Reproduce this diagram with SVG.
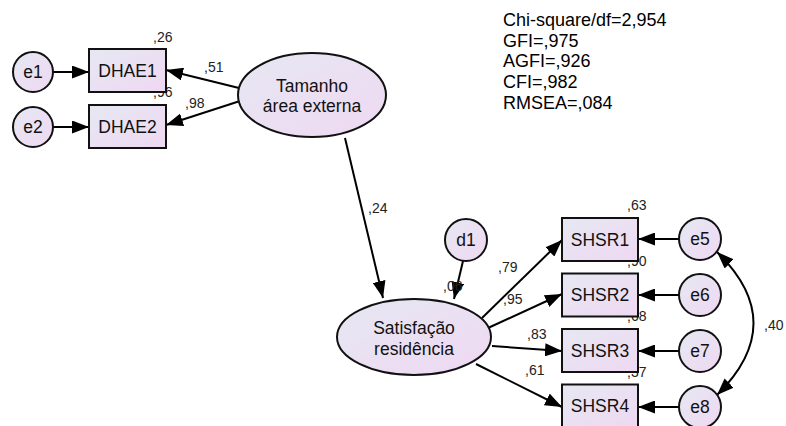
<svg xmlns="http://www.w3.org/2000/svg" width="786" height="426" viewBox="0 0 786 426">
<defs>
<linearGradient id="g" x1="0" y1="0" x2="1" y2="1">
<stop offset="0" stop-color="#e6e8f2"/>
<stop offset="1" stop-color="#efd8f2"/>
</linearGradient>
<marker id="ah" markerUnits="userSpaceOnUse" markerWidth="17" markerHeight="13" viewBox="0 0 17 13" refX="17" refY="6.5" orient="auto">
<path d="M0,0 L17,6.5 L0,13 Z" fill="#000"/>
</marker>
<marker id="ahs" markerUnits="userSpaceOnUse" markerWidth="17" markerHeight="13" viewBox="0 0 17 13" refX="0" refY="6.5" orient="auto">
<path d="M17,0 L0,6.5 L17,13 Z" fill="#000"/>
</marker>
</defs>
<style>
.n{fill:url(#g);stroke:#111;stroke-width:2}
.t{font-family:"Liberation Sans",Arial,sans-serif;font-size:17.5px;fill:#111;text-anchor:middle;dominant-baseline:central}
.l{font-family:"Liberation Sans",Arial,sans-serif;font-size:14px;fill:#222}
.f{font-family:"Liberation Sans",Arial,sans-serif;font-size:18px;fill:#000}
.c{stroke:#000;stroke-width:2;fill:none;marker-end:url(#ah)}
</style>
<g id="connectors">
<line class="c" x1="53" y1="72" x2="89" y2="72"/>
<line class="c" x1="53" y1="127" x2="89" y2="127"/>
<line class="c" x1="239" y1="88" x2="166" y2="70"/>
<line class="c" x1="240" y1="101" x2="166" y2="125"/>
<line class="c" x1="345" y1="138" x2="383" y2="298"/>
<line class="c" x1="463" y1="261" x2="454" y2="299"/>
<line class="c" x1="482" y1="318" x2="562" y2="240"/>
<line class="c" x1="488" y1="328" x2="562" y2="294"/>
<line class="c" x1="492" y1="346" x2="562" y2="351"/>
<line class="c" x1="476" y1="364" x2="562" y2="407"/>
<line class="c" x1="679" y1="239" x2="638" y2="239"/>
<line class="c" x1="679" y1="295" x2="638" y2="295"/>
<line class="c" x1="679" y1="351" x2="638" y2="351"/>
<line class="c" x1="679" y1="407" x2="638" y2="407"/>
<path class="c" style="marker-start:url(#ahs)" d="M717,252 Q790,323 717,395"/>
</g>
<g id="labels">
<text class="l" x="153" y="42">,26</text>
<text class="l" x="153" y="97">,96</text>
<text class="l" x="204" y="72">,51</text>
<text class="l" x="185" y="108">,98</text>
<text class="l" x="368" y="213">,24</text>
<text class="l" x="443" y="291">,06</text>
<text class="l" x="498" y="272">,79</text>
<text class="l" x="503" y="304">,95</text>
<text class="l" x="527" y="339">,83</text>
<text class="l" x="525" y="375">,61</text>
<text class="l" x="627" y="210">,63</text>
<text class="l" x="627" y="266">,90</text>
<text class="l" x="627" y="321">,68</text>
<text class="l" x="627" y="377">,37</text>
<text class="l" x="764" y="330">,40</text>
</g>
<g id="fit">
<text class="f" x="503" y="26">Chi-square/df=2,954</text>
<text class="f" x="503" y="47">GFI=,975</text>
<text class="f" x="503" y="67">AGFI=,926</text>
<text class="f" x="503" y="88">CFI=,982</text>
<text class="f" x="503" y="109">RMSEA=,084</text>
</g>
<g id="e1"><circle class="n" cx="33" cy="72" r="20"/><text class="t" x="33" y="72">e1</text></g>
<g id="e2"><circle class="n" cx="33" cy="127" r="20"/><text class="t" x="33" y="127">e2</text></g>
<g id="DHAE1"><rect class="n" x="89" y="49" width="77" height="43"/><text class="t" x="127.5" y="71">DHAE1</text></g>
<g id="DHAE2"><rect class="n" x="89" y="105" width="77" height="43"/><text class="t" x="127.5" y="127">DHAE2</text></g>
<g id="tamanho"><ellipse class="n" cx="312" cy="95" rx="74" ry="42"/><text class="t" x="312" y="86">Tamanho</text><text class="t" x="312" y="106">área externa</text></g>
<g id="satisfacao"><ellipse class="n" cx="414" cy="337" rx="77" ry="38"/><text class="t" x="414" y="328">Satisfação</text><text class="t" x="414" y="349">residência</text></g>
<g id="d1"><circle class="n" cx="466" cy="240" r="21"/><text class="t" x="466" y="240">d1</text></g>
<g id="SHSR1"><rect class="n" x="562" y="218" width="76" height="43"/><text class="t" x="600" y="239.5">SHSR1</text></g>
<g id="SHSR2"><rect class="n" x="562" y="273.5" width="76" height="43"/><text class="t" x="600" y="295">SHSR2</text></g>
<g id="SHSR3"><rect class="n" x="562" y="329" width="76" height="43"/><text class="t" x="600" y="350.5">SHSR3</text></g>
<g id="SHSR4"><rect class="n" x="562" y="384.5" width="76" height="43"/><text class="t" x="600" y="406">SHSR4</text></g>
<g id="e5"><circle class="n" cx="700" cy="239" r="21"/><text class="t" x="700" y="239">e5</text></g>
<g id="e6"><circle class="n" cx="700" cy="295" r="21"/><text class="t" x="700" y="295">e6</text></g>
<g id="e7"><circle class="n" cx="700" cy="351" r="21"/><text class="t" x="700" y="351">e7</text></g>
<g id="e8"><circle class="n" cx="700" cy="407" r="21"/><text class="t" x="700" y="407">e8</text></g>
</svg>
